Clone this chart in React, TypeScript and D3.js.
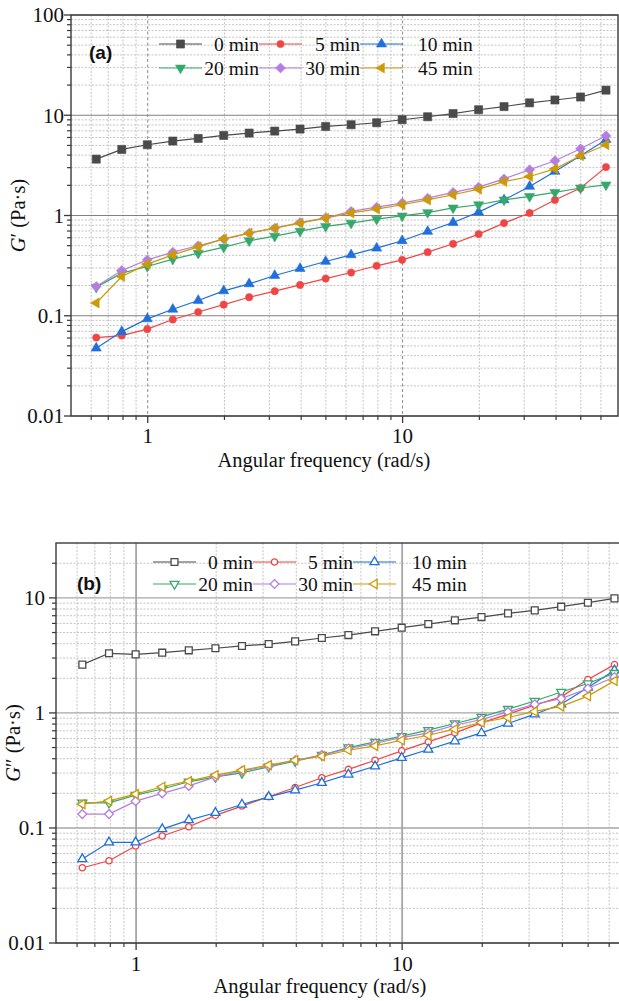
import React from 'react';
import * as d3 from 'd3';

// Angular frequency (rad/s)
const FREQ = [0.628, 0.791, 0.996, 1.254, 1.578, 1.987, 2.5, 3.15, 3.96, 4.99, 6.28, 7.91, 9.96, 12.54, 15.78, 19.87, 25.0, 31.5, 39.6, 49.9, 62.8];

const SERIES_LABELS = ['0 min', '5 min', '10 min', '20 min', '30 min', '45 min'];
const COLORS = ['#4a4a4a', '#f04545', '#1f6fdc', '#35a86b', '#b57de0', '#cc9a06'];

// Panel (a): G'
const A_0 = [3.65, 4.56, 5.08, 5.53, 5.87, 6.29, 6.64, 6.95, 7.28, 7.73, 8.04, 8.42, 9.02, 9.66, 10.4, 11.35, 12.2, 13.3, 14.2, 15.2, 17.8];
const A_5 = [0.0606, 0.0634, 0.0735, 0.0917, 0.109, 0.129, 0.153, 0.176, 0.203, 0.235, 0.27, 0.315, 0.361, 0.431, 0.522, 0.652, 0.84, 1.06, 1.43, 1.88, 3.04];
const A_10 = [0.0475, 0.0695, 0.0931, 0.116, 0.142, 0.177, 0.208, 0.252, 0.296, 0.348, 0.405, 0.472, 0.56, 0.693, 0.851, 1.08, 1.43, 1.95, 2.75, 3.94, 5.7];
const A_20 = [0.193, 0.266, 0.31, 0.367, 0.421, 0.483, 0.56, 0.622, 0.698, 0.78, 0.84, 0.92, 0.99, 1.07, 1.19, 1.28, 1.43, 1.55, 1.7, 1.88, 2.02];
const A_30 = [0.196, 0.283, 0.361, 0.431, 0.499, 0.581, 0.667, 0.748, 0.851, 0.95, 1.1, 1.21, 1.33, 1.49, 1.7, 1.92, 2.32, 2.86, 3.52, 4.63, 6.24];
const A_45 = [0.134, 0.246, 0.327, 0.405, 0.487, 0.585, 0.667, 0.748, 0.84, 0.94, 1.06, 1.16, 1.28, 1.43, 1.61, 1.83, 2.18, 2.45, 2.92, 3.94, 5.08];

// Panel (b): G''
const B_0 = [2.63, 3.3, 3.23, 3.34, 3.5, 3.65, 3.82, 3.97, 4.19, 4.48, 4.75, 5.12, 5.51, 5.92, 6.38, 6.81, 7.33, 7.79, 8.39, 9.08, 9.9];
const B_5 = [0.0451, 0.0519, 0.0697, 0.0851, 0.1024, 0.1285, 0.155, 0.1866, 0.225, 0.273, 0.323, 0.388, 0.468, 0.56, 0.67, 0.819, 0.975, 1.17, 1.38, 1.95, 2.63];
const B_10 = [0.0537, 0.075, 0.075, 0.0978, 0.117, 0.1355, 0.16, 0.1866, 0.213, 0.247, 0.292, 0.344, 0.407, 0.481, 0.568, 0.67, 0.809, 0.975, 1.19, 1.66, 2.35];
const B_20 = [0.1655, 0.1655, 0.193, 0.218, 0.252, 0.278, 0.301, 0.34, 0.381, 0.43, 0.5, 0.56, 0.628, 0.708, 0.809, 0.923, 1.08, 1.27, 1.52, 1.8, 2.22];
const B_30 = [0.132, 0.132, 0.171, 0.2, 0.232, 0.278, 0.314, 0.344, 0.388, 0.43, 0.491, 0.542, 0.611, 0.67, 0.782, 0.877, 1.02, 1.19, 1.33, 1.63, 2.05];
const B_45 = [0.161, 0.172, 0.197, 0.228, 0.255, 0.288, 0.318, 0.352, 0.388, 0.421, 0.474, 0.517, 0.579, 0.64, 0.722, 0.826, 0.912, 1.03, 1.14, 1.4, 1.9];

const X_TICKS = [1, 10];
const Y_TICKS_A = [0.01, 0.1, 1, 10, 100];
const Y_TICKS_B = [0.01, 0.1, 1, 10];

type Shape = 'square' | 'circle' | 'up' | 'down' | 'diamond' | 'left';
const SHAPES: Shape[] = ['square', 'circle', 'up', 'down', 'diamond', 'left'];

const SERIF = '"Liberation Serif", "Times New Roman", serif';
const SANS = '"Liberation Sans", Arial, sans-serif';

function markerPath(shape: Shape, r: number): string {
  const p = (pts: number[][]) => 'M' + pts.map((q) => q.join(',')).join('L') + 'Z';
  switch (shape) {
    case 'square': {
      const h = r * 0.78;
      return p([[-h, -h], [h, -h], [h, h], [-h, h]]);
    }
    case 'circle':
      return d3.symbol(d3.symbolCircle, Math.PI * r * r * 0.62)() as string;
    case 'up':
      return p([[0, -r], [0.866 * r, 0.5 * r], [-0.866 * r, 0.5 * r]]);
    case 'down':
      return p([[0, r], [0.866 * r, -0.5 * r], [-0.866 * r, -0.5 * r]]);
    case 'left':
      return p([[-r, 0], [0.5 * r, -0.866 * r], [0.5 * r, 0.866 * r]]);
    case 'diamond': {
      const h = r * 0.92;
      return p([[0, -h], [h, 0], [0, h], [-h, 0]]);
    }
  }
  return '';
}

function minorValues(lo: number, hi: number): number[] {
  const out: number[] = [];
  for (let d = 0.01; d < hi * 1.0001; d *= 10) {
    for (let k = 1; k <= 9; k++) {
      const v = +(d * k).toPrecision(6);
      if (v > lo * 1.0001 && v < hi * 0.9999) out.push(v);
    }
  }
  return out;
}

interface PanelProps {
  left: number; right: number; top: number; bottom: number;
  yMax: number; yTicks: number[];
  data: number[][];
  filled: boolean;
  tag: string; tagX: number; tagY: number;
  yTitle: string; yTitleX: number;
  legendRows: number[]; legendCols: number[];
  legendLineW: number;
  textEnds: number[]; col3TextStart: number;
  xLabelY: number; xTitleX: number; xTitleY: number; yLabelEnd: number;
  majorXDashed: boolean;
  r: { square: number; circle: number; tri: number; diamond: number };
}

function Panel(props: PanelProps) {
  const { left, right, top, bottom, yMax, yTicks, data, filled } = props;
  const x = d3.scaleLog().domain([0.5, 70]).range([left, right]);
  const y = d3.scaleLog().domain([0.01, yMax]).range([bottom, top]);
  const xMinor = minorValues(0.5, 70).filter((v) => !X_TICKS.includes(v));
  const yMinor = minorValues(0.01, yMax).filter((v) => !yTicks.includes(v));
  const line = d3.line<number>().x((_, i) => x(FREQ[i])).y((v) => y(v));
  const size = (s: Shape) =>
    s === 'square' ? props.r.square : s === 'circle' ? props.r.circle : s === 'diamond' ? props.r.diamond : props.r.tri;
  const clipId = 'clip' + props.tag.replace(/\W/g, '');
  const axisColor = '#3a3a3a';

  const marker = (i: number, cx: number, cy: number, key: string | number) => (
    <path
      key={key}
      d={markerPath(SHAPES[i], size(SHAPES[i]))}
      transform={`translate(${cx},${cy})`}
      fill={filled ? COLORS[i] : '#ffffff'}
      stroke={COLORS[i]}
      strokeWidth={filled ? 0.6 : 1.3}
    />
  );

  return (
    <g>
      <defs>
        <clipPath id={clipId}>
          <rect x={left - 8} y={top - 8} width={right - left + 16} height={bottom - top + 16} />
        </clipPath>
      </defs>
      {xMinor.map((v) => (
        <line key={'xm' + v} x1={x(v)} x2={x(v)} y1={top} y2={bottom} stroke="#c4c4c4" strokeWidth={1} strokeDasharray="2,1.5" />
      ))}
      {yMinor.map((v) => (
        <line key={'ym' + v} x1={left} x2={right} y1={y(v)} y2={y(v)} stroke="#c4c4c4" strokeWidth={1} strokeDasharray="2,1.5" />
      ))}
      {yTicks.map((v) => (
        <line key={'yM' + v} x1={left} x2={right} y1={y(v)} y2={y(v)} stroke={props.majorXDashed ? '#808080' : '#a6a6a6'} strokeWidth={props.majorXDashed ? 1 : 1.4} />
      ))}
      {X_TICKS.map((v) => (
        <line key={'xM' + v} x1={x(v)} x2={x(v)} y1={top} y2={bottom}
          stroke={props.majorXDashed ? '#8a8a8a' : '#a6a6a6'}
          strokeWidth={props.majorXDashed ? 1 : 1.8}
          strokeDasharray={props.majorXDashed ? '3,2.5' : undefined} />
      ))}
      <g clipPath={`url(#${clipId})`}>
        {data.map((vals, i) => (
          <g key={'s' + i}>
            <path d={line(vals) as string} fill="none" stroke={COLORS[i]} strokeWidth={1.2} />
            {vals.map((v, j) => marker(i, x(FREQ[j]), y(v), j))}
          </g>
        ))}
      </g>
      {SERIES_LABELS.map((lab, i) => {
        const row = i < 3 ? 0 : 1;
        const col = i % 3;
        const ly = props.legendRows[row];
        const lx0 = props.legendCols[col];
        const lx1 = lx0 + props.legendLineW;
        const tx = col < 2 ? props.textEnds[col] : props.col3TextStart;
        return (
          <g key={'lg' + i}>
            <line x1={lx0} x2={lx1} y1={ly} y2={ly} stroke={COLORS[i]} strokeWidth={1.2} />
            {marker(i, (lx0 + lx1) / 2, ly, 'm')}
            <text x={tx} y={ly} dy="0.35em" textAnchor={col < 2 ? 'end' : 'start'} fontFamily={SERIF} fontSize={19.5} fill="#111">{lab}</text>
          </g>
        );
      })}
      <text x={props.tagX} y={props.tagY} dy="0.35em" fontFamily={SANS} fontWeight="bold" fontSize={19} fill="#111">{props.tag}</text>
      <rect x={left} y={top} width={right - left} height={bottom - top} fill="none" stroke={axisColor} strokeWidth={1.4} />
      {xMinor.map((v) => (
        <line key={'xt' + v} x1={x(v)} x2={x(v)} y1={bottom} y2={bottom + 4} stroke={axisColor} strokeWidth={1.2} />
      ))}
      {X_TICKS.map((v) => (
        <g key={'xT' + v}>
          <line x1={x(v)} x2={x(v)} y1={bottom} y2={bottom + 7} stroke={axisColor} strokeWidth={1.3} />
          <text x={x(v)} y={props.xLabelY} textAnchor="middle" fontFamily={SERIF} fontSize={21} fill="#111">{d3.format('~g')(v)}</text>
        </g>
      ))}
      {yMinor.map((v) => (
        <line key={'yt' + v} x1={left - 4} x2={left} y1={y(v)} y2={y(v)} stroke={axisColor} strokeWidth={1.2} />
      ))}
      {yTicks.map((v) => (
        <g key={'yT' + v}>
          <line x1={left - 7} x2={left} y1={y(v)} y2={y(v)} stroke={axisColor} strokeWidth={1.3} />
          <text x={props.yLabelEnd} y={y(v)} dy="0.35em" textAnchor="end" fontFamily={SERIF} fontSize={21} fill="#111">{d3.format('~g')(v)}</text>
        </g>
      ))}
      <text x={props.xTitleX} y={props.xTitleY} textAnchor="middle" fontFamily={SERIF} fontSize={20.5} fill="#111">Angular frequency (rad/s)</text>
      <text transform={`translate(${props.yTitleX},${(top + bottom) / 2}) rotate(-90)`} textAnchor="middle" fontFamily={SERIF} fontSize={20.5} fill="#111">
        <tspan fontStyle="italic">G</tspan>{props.yTitle}
      </text>
    </g>
  );
}

export default function App() {
  return (
    <svg width={619} height={1001} style={{ position: 'absolute', left: 0, top: 0, background: '#fff' }}>
      <rect x={0} y={0} width={619} height={1001} fill="#fff" />
      <Panel
        left={71} right={618} top={15} bottom={416}
        yMax={100} yTicks={Y_TICKS_A}
        data={[A_0, A_5, A_10, A_20, A_30, A_45]}
        filled={true}
        tag="(a)" tagX={89} tagY={52}
        yTitle={'\u2032 (Pa\u00b7s)'} yTitleX={25}
        legendRows={[44, 68]} legendCols={[159, 259, 360]} legendLineW={43}
        textEnds={[259, 360]} col3TextStart={418}
        xLabelY={443} xTitleX={324} xTitleY={467} yLabelEnd={64}
        majorXDashed={true}
        r={{ square: 5.2, circle: 4.6, tri: 5.8, diamond: 5.4 }}
      />
      <Panel
        left={56} right={627} top={543} bottom={943}
        yMax={30} yTicks={Y_TICKS_B}
        data={[B_0, B_5, B_10, B_20, B_30, B_45]}
        filled={false}
        tag="(b)" tagX={77} tagY={583}
        yTitle={'\u2033 (Pa\u00b7s)'} yTitleX={20}
        legendRows={[562, 584]} legendCols={[153, 253, 353]} legendLineW={43}
        textEnds={[253, 353]} col3TextStart={412}
        xLabelY={971} xTitleX={320} xTitleY={993} yLabelEnd={45}
        majorXDashed={false}
        r={{ square: 4.4, circle: 4.0, tri: 5.2, diamond: 4.8 }}
      />
    </svg>
  );
}
